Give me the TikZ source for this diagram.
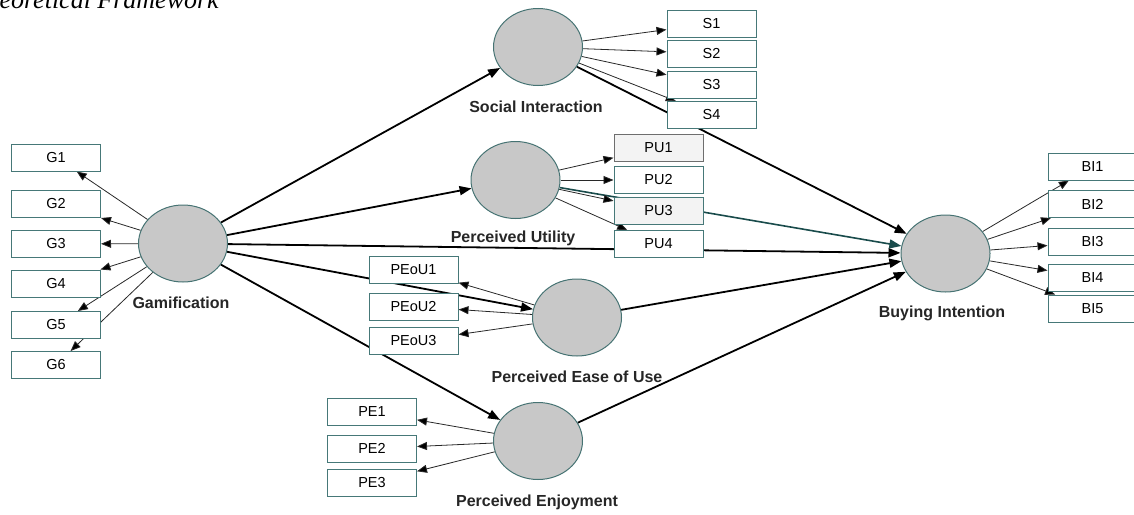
\documentclass[tikz,border=0pt]{standalone}
\usepackage{fontspec}
\setmainfont{Liberation Sans}
\newfontfamily\titlefont{Liberation Serif}
\usetikzlibrary{shapes.geometric,arrows.meta,backgrounds}
\definecolor{lvfill}{RGB}{200,200,200}
\definecolor{lvdraw}{RGB}{70,115,115}
\definecolor{boxdraw}{RGB}{70,120,120}
\definecolor{pathteal}{RGB}{25,75,75}
\definecolor{measline}{RGB}{40,40,40}
\definecolor{boxgray}{RGB}{243,243,243}
\definecolor{boxgraydraw}{RGB}{110,110,110}
\begin{document}
\begin{tikzpicture}[x=1pt,y=-1pt,
  latent/.style={ellipse,draw=lvdraw,line width=1pt,fill=lvfill,minimum width=89pt,minimum height=77pt,inner sep=0pt},
  indic/.style={rectangle,draw=boxdraw,line width=1pt,fill=white,minimum width=89pt,minimum height=27pt,inner sep=0pt,font=\fontsize{14.5}{16}\selectfont},
  lvlabel/.style={font=\bfseries\fontsize{16}{18}\selectfont,inner sep=0pt,text=black!85},
  struct/.style={line width=1.8pt,-{Triangle[length=12pt,width=9pt]}},
  meas/.style={line width=0.8pt,draw=measline,-{Triangle[length=10pt,width=8pt,fill=black]}}
]
\useasboundingbox (0,0) rectangle (1134,514);

\node[anchor=base east,font=\titlefont\itshape\fontsize{26}{28}\selectfont,inner sep=0pt] (title) at (219,9) {Theoretical Framework};

% latent variables
\node[latent] (SI) at (538,47) {};
\node[latent] (PU) at (515.5,180) {};
\node[latent] (G) at (183,243.5) {};
\node[latent] (PEoU) at (577,317.5) {};
\node[latent] (PE) at (538,441) {};
\node[latent] (BI) at (945.5,253.5) {};

% labels
\node[lvlabel] (SIl) at (536,107) {Social Interaction};
\node[lvlabel] (PUl) at (513,238) {Perceived Utility};
\node[lvlabel] (Gl) at (181,303) {Gamification};
\node[lvlabel] (PEoUl) at (577,377) {Perceived Ease of Use};
\node[lvlabel] (PEl) at (537,502) {Perceived Enjoyment};
\node[lvlabel] (BIl) at (942,313) {Buying Intention};

% indicators
\node[indic] (S1) at (711.5,23.5) {S1};
\node[indic] (S2) at (711.5,53.5) {S2};
\node[indic] (S3) at (711.5,84.5) {S3};
\node[indic] (S4) at (711.5,115) {S4};

\node[indic,fill=boxgray,draw=boxgraydraw] (PU1) at (658.5,147.5) {PU1};
\node[indic] (PU2) at (658.5,180) {PU2};
\node[indic,fill=boxgray] (PU3) at (658.5,210.5) {PU3};
\node[indic] (PU4) at (658.5,244) {PU4};

\node[indic] (BI1) at (1092.5,166.5) {BI1};
\node[indic] (BI2) at (1092.5,204) {BI2};
\node[indic] (BI3) at (1092.5,242) {BI3};
\node[indic] (BI4) at (1092.5,278) {BI4};
\node[indic] (BI5) at (1092.5,308.5) {BI5};

\node[indic] (G1) at (56,157.5) {G1};
\node[indic] (G2) at (56,204) {G2};
\node[indic] (G3) at (56,244) {G3};
\node[indic] (G4) at (56,283.5) {G4};
\node[indic] (G5) at (56,325) {G5};
\node[indic] (G6) at (56,365) {G6};

\node[indic] (PEoU1) at (413.5,269.5) {PEoU1};
\node[indic] (PEoU2) at (413.5,306.5) {PEoU2};
\node[indic] (PEoU3) at (413.5,341) {PEoU3};

\node[indic] (PE1) at (372,412) {PE1};
\node[indic] (PE2) at (372,448.5) {PE2};
\node[indic] (PE3) at (372,482.5) {PE3};

\begin{scope}[on background layer]
  % structural paths
  \draw[struct] (G) -- (SI);
  \draw[struct] (G) -- (PU);
  \draw[struct] (G) -- (BI);
  \draw[struct] (G) -- (PEoU);
  \draw[struct] (G) -- (PE);
  \draw[struct] (SI) -- (BI);
  \draw[struct,draw=pathteal,line width=1.6pt] (PU) -- (BI);
  \draw[struct] (PEoU) -- (BI);
  \draw[struct] (PE) -- (BI);
  % measurement
  \foreach \i in {1,...,4} {\draw[meas] (SI) -- (S\i);}
  \foreach \i in {1,...,4} {\draw[meas] (PU) -- (PU\i);}
  \foreach \i in {1,...,5} {\draw[meas] (BI) -- (BI\i);}
  \foreach \i in {1,...,6} {\draw[meas] (G) -- (G\i);}
  \foreach \i in {1,...,3} {\draw[meas] (PEoU) -- (PEoU\i);}
  \foreach \i in {1,...,3} {\draw[meas] (PE) -- (PE\i);}
\end{scope}
\end{tikzpicture}
\end{document}
